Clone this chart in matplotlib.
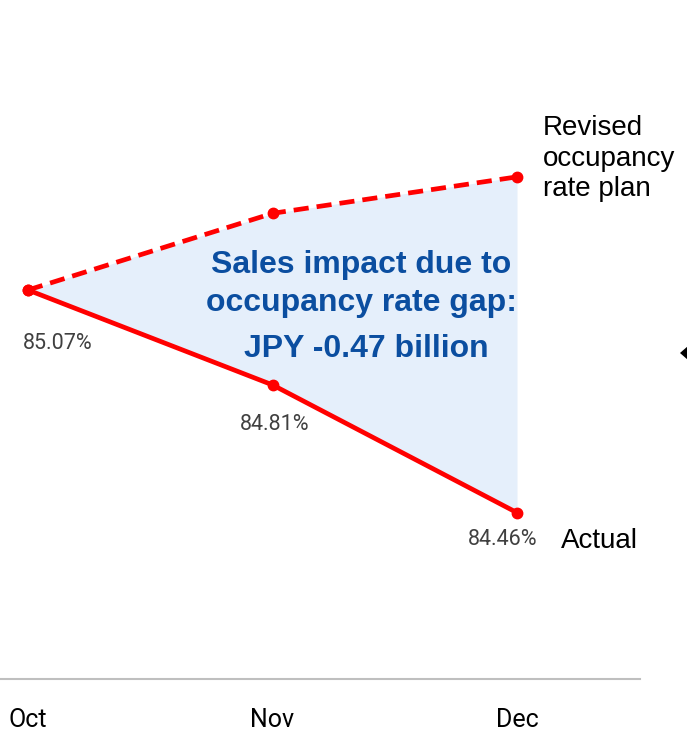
import matplotlib.pyplot as plt
from matplotlib.patches import Polygon

# Monthly occupancy rates (%)
months = ['Oct', 'Nov', 'Dec']
plan_rate = [85.07, 85.28, 85.38]
actual_rate = [85.07, 84.81, 84.46]
actual_labels = ['85.07%', '84.81%', '84.46%']

red = '#FF0000'
blue_text = '#0B4EA0'
narrow = dict(family=['Roboto', 'DejaVu Sans'])

fig = plt.figure(figsize=(6.87, 7.36), dpi=100)
ax = fig.add_axes([0, 1 - 679 / 736, 640 / 687, 679 / 736])

x = list(range(len(months)))

# gap between plan and actual
ax.fill_between(x, actual_rate, plan_rate, color='#E5EFFB', lw=0, zorder=1)

ax.plot(x, plan_rate, color=red, lw=3.4, ls=(0, (3.2, 1.7)), marker='o', ms=7.5,
        zorder=3)
ax.plot(x, actual_rate, color=red, lw=3.4, marker='o', ms=7.5, zorder=3)

# value labels under the actual line
offsets = [(30, -53), (2, -40), (-14, -27)]
for xi, yi, lab, off in zip(x, actual_rate, actual_labels, offsets):
    ax.annotate(lab, (xi, yi), xytext=off, textcoords='offset pixels',
                ha='center', va='center', fontsize=15.5, color='#404040', **narrow)

bold_blue = dict(ha='center', va='center', fontsize=23, fontweight='bold',
                 color=blue_text, family='Liberation Sans')
ax.text(1.362, 85.138, 'Sales impact due to', **bold_blue)
ax.text(1.362, 85.034, 'occupancy rate gap:', **bold_blue)
ax.text(1.382, 84.908, 'JPY -0.47 billion', **bold_blue)

ax.text(2.105, 85.43, 'Revised\noccupancy\nrate plan', ha='left', va='center',
        fontsize=20, color='black', linespacing=1.22, family='Liberation Sans')
ax.text(2.18, 84.382, 'Actual', ha='left', va='center', fontsize=20,
        color='black', family='Liberation Sans')

ax.set_xlim(-28 / 244.5, 612 / 244.5)
ax.set_ylim(85.07 - 389 / 365, 85.07 + 290 / 365)
ax.set_xticks(x)
ax.set_xticklabels(months, fontsize=18, **narrow)
ax.tick_params(axis='x', length=0, pad=21)
ax.set_yticks([])
for side in ['top', 'left', 'right']:
    ax.spines[side].set_visible(False)
ax.spines['bottom'].set_color('#BFBFBF')
ax.spines['bottom'].set_linewidth(1.5)
ax.patch.set_visible(False)

# pointer arrow at the right edge
W, H = 687, 736
tri = [(680 / W, 1 - 353 / H), (688 / W, 1 - 346 / H), (688 / W, 1 - 360 / H)]
fig.add_artist(Polygon(tri, closed=True, transform=fig.transFigure,
                       color='black', lw=0))

fig.savefig('out.png', dpi=100)
